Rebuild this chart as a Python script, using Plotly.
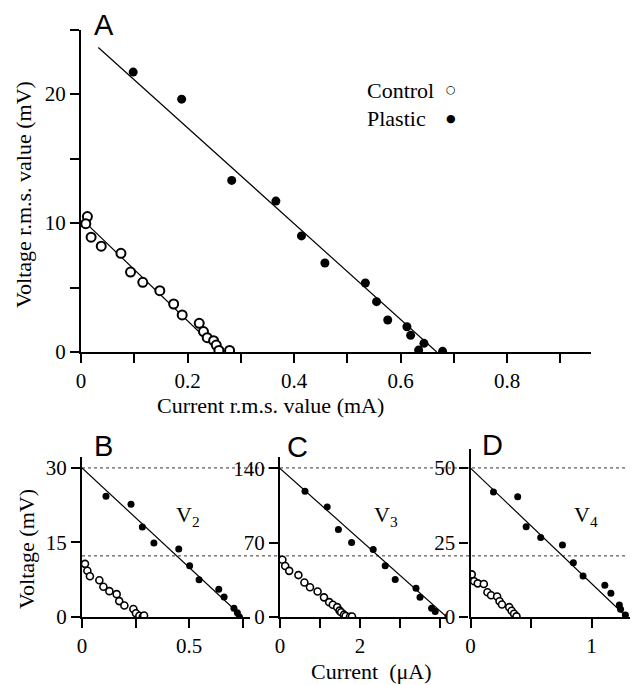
import plotly.graph_objects as go

W, H = 636, 685

# ---------------- data ----------------
# Panel A
a_ctrl_x = [0.012, 0.009, 0.019, 0.038, 0.075, 0.093, 0.116, 0.148, 0.174, 0.190,
            0.222, 0.230, 0.237, 0.249, 0.254, 0.259, 0.279]
a_ctrl_y = [10.5, 9.95, 8.9, 8.2, 7.65, 6.2, 5.4, 4.75, 3.72, 2.87,
            2.22, 1.58, 1.11, 0.88, 0.54, 0.12, 0.12]
a_plas_x = [0.098, 0.189, 0.283, 0.366, 0.414, 0.458, 0.534, 0.555, 0.576, 0.612,
            0.619, 0.644, 0.634, 0.679]
a_plas_y = [21.7, 19.6, 13.3, 11.7, 9.0, 6.9, 5.35, 3.9, 2.48, 1.96,
            1.29, 0.67, 0.15, 0.05]
a_ctrl_fit_x = [0.004, 0.261]
a_ctrl_fit_y = [10.2, 0.0]
a_plas_fit_x = [0.0325, 0.668]
a_plas_fit_y = [23.6, 0.0]

# Panel B (V2)
b_ctrl_x = [0.014, 0.025, 0.037, 0.081, 0.100, 0.128, 0.162, 0.174, 0.198, 0.240,
            0.252, 0.268, 0.284, 0.290]
b_ctrl_y = [10.7, 9.3, 8.2, 7.4, 6.1, 5.2, 4.6, 3.2, 2.3, 1.6,
            0.74, 0.26, 0.05, 0.3]
b_plas_x = [0.112, 0.229, 0.282, 0.336, 0.452, 0.503, 0.547, 0.639, 0.664, 0.710, 0.726, 0.735]
b_plas_y = [24.3, 22.7, 18.1, 14.9, 13.7, 10.3, 7.5, 5.6, 4.0, 1.75, 0.87, 0.06]
b_fit_x = [0.0, 0.75]
b_fit_y = [30.0, 0.0]

# Panel C (V3)
c_ctrl_x = [0.06, 0.13, 0.23, 0.46, 0.61, 0.75, 0.94, 1.10, 1.23, 1.32,
            1.43, 1.49, 1.53, 1.60, 1.64, 1.75, 1.80]
c_ctrl_y = [54.0, 48.0, 43.5, 39.5, 32.5, 28.0, 24.0, 18.5, 14.0, 11.5,
            9.3, 6.0, 4.5, 2.2, 0.9, 0.2, 0.5]
c_plas_x = [0.625, 1.18, 1.46, 1.79, 2.33, 2.63, 2.88, 3.40, 3.50, 3.79, 3.88, 4.20]
c_plas_y = [118.4, 103.7, 82.4, 70.2, 63.6, 48.2, 35.4, 27.0, 18.5, 8.2, 5.2, 0.5]
c_fit_x = [0.0, 4.17]
c_fit_y = [140.0, 0.0]

# Panel D (V4)
d_ctrl_x = [0.01, 0.03, 0.06, 0.11, 0.14, 0.17, 0.22, 0.24, 0.26, 0.32, 0.34, 0.36, 0.38]
d_ctrl_y = [14.3, 12.0, 11.3, 11.1, 8.3, 7.3, 6.9, 5.3, 4.2, 3.3, 2.1, 1.1, 0.2]
d_plas_x = [0.19, 0.39, 0.46, 0.58, 0.76, 0.85, 0.93, 1.11, 1.16, 1.23, 1.24, 1.28]
d_plas_y = [42.0, 40.4, 30.3, 26.7, 24.2, 18.2, 13.8, 10.7, 8.0, 4.0, 2.6, 0.7]
d_fit_x = [0.0, 1.29]
d_fit_y = [50.0, 0.0]

# dotted reference levels (in panel B units, mV)
ref_levels_b = [30.0, 12.3]

# tick labels
a_xticks = [0, 0.2, 0.4, 0.6, 0.8]
a_xminor = [0.1, 0.3, 0.5, 0.7, 0.9]
a_yticks = [0, 10, 20]
a_yminor = [5, 15, 25]
b_xticks = [0, 0.5]
b_xminor = [0.25, 0.75]
b_yticks = [0, 15, 30]
c_xticks = [0, 2]
c_xminor = [1, 3, 4]
c_yticks = [0, 70, 140]
d_xticks = [0, 1]
d_xminor = [0.5]
d_yticks = [0, 25, 50]

# ---------------- helpers ----------------
def px(x):
    return x / W

def py(y):
    return 1 - y / H

SERIF = "Liberation Serif"
SANS = "Liberation Sans"
TICKFONT = dict(family=SERIF, size=21, color="black")

fig = go.Figure()

def add_panel(xa, ya, cx, cy, pxs, pys, fits, big):
    msz = 9 if big else 7
    olw = 2 if big else 1.6
    for fx, fy in fits:
        fig.add_trace(go.Scatter(x=fx, y=fy, mode="lines", xaxis=xa, yaxis=ya,
                                 line=dict(color="black", width=1.2),
                                 showlegend=False, hoverinfo="skip"))
    fig.add_trace(go.Scatter(x=cx, y=cy, mode="markers", xaxis=xa, yaxis=ya,
                             marker=dict(symbol="circle", size=msz, color="white",
                                         line=dict(color="black", width=olw)),
                             showlegend=False))
    fig.add_trace(go.Scatter(x=pxs, y=pys, mode="markers", xaxis=xa, yaxis=ya,
                             marker=dict(symbol="circle", size=msz, color="black",
                                         line=dict(width=0)),
                             showlegend=False))

add_panel("x", "y", a_ctrl_x, a_ctrl_y, a_plas_x, a_plas_y,
          [(a_ctrl_fit_x, a_ctrl_fit_y), (a_plas_fit_x, a_plas_fit_y)], True)
add_panel("x2", "y2", b_ctrl_x, b_ctrl_y, b_plas_x, b_plas_y, [(b_fit_x, b_fit_y)], False)
add_panel("x3", "y3", c_ctrl_x, c_ctrl_y, c_plas_x, c_plas_y, [(c_fit_x, c_fit_y)], False)
add_panel("x4", "y4", d_ctrl_x, d_ctrl_y, d_plas_x, d_plas_y, [(d_fit_x, d_fit_y)], False)

def axis(domain, rng, anchor, tickvals, minorvals=None):
    d = dict(domain=domain, range=rng, anchor=anchor, showline=True,
             linewidth=2.2, linecolor="black", ticks="outside", ticklen=9,
             tickwidth=1.5, tickcolor="black", showgrid=False, zeroline=False,
             tickmode="array", tickvals=tickvals,
             ticktext=[("%g" % v) for v in tickvals], tickfont=TICKFONT,
             automargin=False, fixedrange=True)
    if minorvals:
        d["minor"] = dict(tickmode="array", tickvals=minorvals, ticks="outside",
                          ticklen=9, tickwidth=1.5, tickcolor="black", showgrid=False)
    return d

fig.update_layout(
    width=W, height=H, margin=dict(l=0, r=0, t=0, b=0),
    paper_bgcolor="white", plot_bgcolor="white", showlegend=False,
    xaxis=axis([px(81), px(591)], [0, 0.9577], "y", a_xticks, a_xminor),
    yaxis=axis([py(352), py(29.5)], [0, 25], "x", a_yticks, a_yminor),
    xaxis2=axis([px(82), px(250)], [0, 0.785], "y2", b_xticks, b_xminor),
    yaxis2=axis([py(617), py(457)], [0, 32.2], "x2", b_yticks),
    xaxis3=axis([px(280), px(446)], [0, 4.15], "y3", c_xticks, c_xminor),
    yaxis3=axis([py(617), py(457.4)], [0, 150.4], "x3", c_yticks),
    xaxis4=axis([px(470.5), px(630)], [0, 1.318], "y4", d_xticks, d_xminor),
    yaxis4=axis([py(617), py(449)], [0, 56.4], "x4", d_yticks),
)

# dotted reference lines across the lower panels
for lv in ref_levels_b:
    fig.add_shape(type="line", xref="paper", yref="y2", x0=px(82), x1=px(628),
                  y0=lv, y1=lv, line=dict(color="#333", width=1, dash="dot"), layer="below")

ann = []
def text(x, y, s, size=22, fam=SERIF, xanchor="center", yanchor="middle", angle=0):
    ann.append(dict(x=px(x), y=py(y), xref="paper", yref="paper", text=s, showarrow=False,
                    xanchor=xanchor, yanchor=yanchor, textangle=angle,
                    font=dict(family=fam, size=size, color="black")))

# panel letters
text(104, 25, "A", size=29, fam=SANS)
text(103, 446, "B", size=29, fam=SANS)
text(297, 447, "C", size=29, fam=SANS)
text(492, 445, "D", size=29, fam=SANS)

# axis titles
text(270, 405, "Current r.m.s. value (mA)")
text(23, 195, "Voltage r.m.s. value (mV)", angle=-90)
text(371, 671, "Current  (μA)")
text(26, 549, "Voltage (mV)", angle=-90)

# legend
text(365, 90, "Control", xanchor="left")
text(365, 118, "Plastic", xanchor="left")
text(451, 89, "○", size=11, fam="DejaVu Sans")
text(451, 118, "●", size=11, fam="DejaVu Sans")

# V labels
text(174, 516, "V<sub>2</sub>", xanchor="left")
text(372, 516, "V<sub>3</sub>", xanchor="left")
text(572, 516, "V<sub>4</sub>", xanchor="left")

fig.update_layout(annotations=ann)

fig.write_html("out.html", include_plotlyjs=True, config={"displayModeBar": False})
